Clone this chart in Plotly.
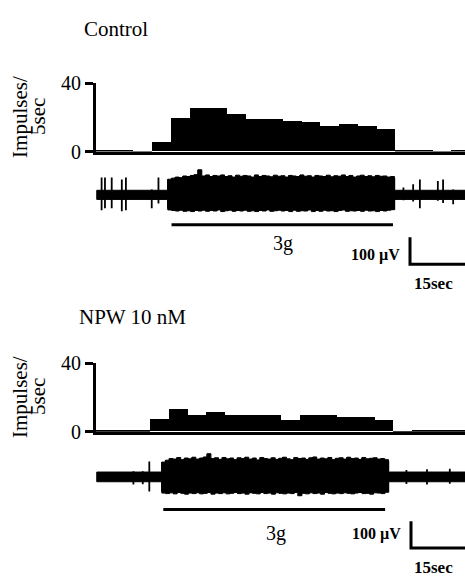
import plotly.graph_objects as go

W, H = 465, 588
SERIF = "Liberation Serif, Times New Roman, serif"

# ---------------- data ----------------
# impulse counts per 5-s bin
BIN_S = 5
CONTROL_COUNTS = [0.4, 0.4, 0.2, 5.6, 19.7, 25.2, 25.2, 21.6, 18.8, 18.8,
                  18.0, 16.9, 15.0, 15.8, 15.0, 13.3, 0.3, 0.3, 0.2, 0.3]
NPW_COUNTS = [0.5, 0.5, 0.3, 7.5, 13.2, 9.4, 11.3, 9.4, 9.4, 9.4,
              6.6, 9.4, 9.4, 8.5, 8.5, 6.6, 0.2, 0.3, 0.3, 0.3]
CONTROL_BIN_START = 0.0
NPW_BIN_START = -0.5

# raw nerve recordings (time in s, amplitude in uV)
REC_START, REC_END = 0.2, 100.0
CONTROL_NOISE_UV = 17
NPW_NOISE_UV = 18

# stimulus (3 g) on/off times
CONTROL_STIM = (20.2, 79.4)
NPW_STIM = (18.0, 77.3)

# burst envelope during stimulation, sampled once per second
CONTROL_BURST = (19.2, 79.8)
CONTROL_BURST_UP = [58, 62, 66, 64, 70, 68, 72, 75, 93, 70, 74,
                    68, 72, 70, 74, 68, 71, 66, 73, 69, 72,
                    70, 66, 74, 68, 72, 70, 67, 73, 69, 71,
                    66, 72, 70, 68, 74, 69, 71, 66, 72, 70,
                    68, 73, 67, 71, 69, 74, 68, 72, 66, 70,
                    73, 68, 71, 67, 72, 69, 70, 66, 68, 64]
CONTROL_BURST_DOWN = [-52, -56, -58, -60, -57, -61, -59, -62, -58, -60, -57,
                      -61, -58, -60, -56, -62, -59, -57, -61, -58, -60,
                      -57, -61, -59, -62, -58, -60, -56, -61, -59, -57,
                      -60, -58, -62, -57, -61, -59, -60, -56, -62, -58,
                      -61, -57, -60, -59, -62, -58, -56, -61, -59, -60,
                      -58, -61, -57, -60, -59, -62, -58, -60, -57, -55]

NPW_BURST = (17.6, 78.2)
NPW_BURST_UP = [55, 62, 68, 66, 72, 64, 70, 67, 73, 66, 70,
                74, 86, 68, 71, 65, 72, 67, 70, 64, 71,
                68, 73, 66, 70, 63, 72, 68, 66, 71, 65,
                69, 73, 67, 64, 72, 68, 70, 65, 71, 74,
                66, 70, 67, 72, 64, 69, 71, 66, 73, 68,
                70, 65, 72, 67, 69, 71, 66, 68, 64, 60]
NPW_BURST_DOWN = [-55, -60, -62, -59, -63, -58, -61, -64, -60, -62, -59,
                  -63, -61, -58, -64, -60, -62, -59, -63, -61, -58,
                  -62, -60, -64, -59, -61, -63, -58, -62, -60, -64,
                  -59, -61, -63, -60, -62, -58, -70, -61, -63, -59,
                  -62, -60, -64, -58, -61, -63, -60, -62, -59, -61,
                  -63, -60, -58, -62, -61, -64, -59, -60, -62, -57]

# isolated single-unit spikes outside the burst: time, peak, trough
CONTROL_SPIKE_T = [1.5, 2.4, 4.2, 6.9, 8.0, 14.9, 16.7, 82.2, 84.8, 86.6, 91.4, 92.8, 95.5]
CONTROL_SPIKE_UP = [64, 64, 64, 57, 64, 20, 64, 27, 39, 57, 51, 57, 20]
CONTROL_SPIKE_DOWN = [-57, -50, -50, -61, -57, -50, -32, -20, -25, -50, -22, -30, -35]

NPW_SPIKE_T = [10.0, 12.5, 14.25, 83.0, 88.5, 94.6]
NPW_SPIKE_UP = [21, 21, 57, 26, 28, 30]
NPW_SPIKE_DOWN = [-28, -27, -54, -26, -28, -25]

# calibration
SCALE_UV = 100
SCALE_S = 15
STIM_LABEL = "3g"

# ---------------- layout helpers ----------------
PX_PER_S = 3.74
PX_PER_UV = 0.28
AX_LEFT = 96
X_RANGE = [0, (W - AX_LEFT) / PX_PER_S]


def py(p):
    return 1 - p / H


def trace_range(top, bottom, center):
    return [-(bottom - center) / PX_PER_UV, (center - top) / PX_PER_UV]


def uv_at(p, center):
    return (center - p) / PX_PER_UV


def t_at(p):
    return (p - AX_LEFT) / PX_PER_S


fig = go.Figure()

panels = [
    dict(counts=CONTROL_COUNTS, bin0=CONTROL_BIN_START, hx="x", hy="y",
         tx="x3", ty="y3", noise=CONTROL_NOISE_UV, stim=CONTROL_STIM,
         burst=CONTROL_BURST, up=CONTROL_BURST_UP, down=CONTROL_BURST_DOWN,
         st=CONTROL_SPIKE_T, su=CONTROL_SPIKE_UP, sd=CONTROL_SPIKE_DOWN,
         h0=146, h40=75, center=191, dom=(160, 300),
         stim_px=222, bar_top=235, bar_x=410, label_px=253, g_px=(283, 242),
         sec_px=(433, 283), title="Control", title_px=(82, 19), ylab_px=110),
    dict(counts=NPW_COUNTS, bin0=NPW_BIN_START, hx="x2", hy="y2",
         tx="x4", ty="y4", noise=NPW_NOISE_UV, stim=NPW_STIM,
         burst=NPW_BURST, up=NPW_BURST_UP, down=NPW_BURST_DOWN,
         st=NPW_SPIKE_T, su=NPW_SPIKE_UP, sd=NPW_SPIKE_DOWN,
         h0=437, h40=366, center=484, dom=(450, 588),
         stim_px=518, bar_top=530, bar_x=411, label_px=543, g_px=(276, 543),
         sec_px=(433, 578), title="NPW 10 nM", title_px=(77, 318), ylab_px=401),
]

annotations = []
for i, p in enumerate(panels):
    # histogram
    centers = [p["bin0"] + BIN_S * (k + 0.5) for k in range(len(p["counts"]))]
    fig.add_trace(go.Bar(x=centers, y=p["counts"], width=BIN_S,
                         marker=dict(color="black", line=dict(width=0)),
                         xaxis=p["hx"], yaxis=p["hy"], hoverinfo="skip"))

    # baseline noise band of the recording
    n = p["noise"]
    fig.add_trace(go.Scatter(x=[REC_START, REC_END, REC_END, REC_START, REC_START],
                             y=[n, n, -n, -n, n], fill="toself", fillcolor="black",
                             mode="lines", line=dict(color="black", width=1),
                             xaxis=p["tx"], yaxis=p["ty"], hoverinfo="skip"))

    # burst envelope, drawn as steps so each sample reads as a unit discharge
    b0, b1 = p["burst"]
    m = len(p["up"])
    bt = [b0 + (b1 - b0) * k / (m - 1) for k in range(m)]
    fig.add_trace(go.Scatter(x=bt + bt[::-1] + [bt[0]],
                             y=p["up"] + p["down"][::-1] + [p["up"][0]],
                             fill="toself", fillcolor="black", mode="lines",
                             line=dict(color="black", width=1, shape="hv"),
                             xaxis=p["tx"], yaxis=p["ty"], hoverinfo="skip"))
    vx, vy = [], []
    for t, u, d in zip(bt, p["up"], p["down"]):
        vx += [t, t, None]
        vy += [u, d, None]
    fig.add_trace(go.Scatter(x=vx, y=vy, mode="lines",
                             line=dict(color="black", width=1.5),
                             xaxis=p["tx"], yaxis=p["ty"], hoverinfo="skip"))

    # isolated spikes
    sx, sy = [], []
    for t, u, d in zip(p["st"], p["su"], p["sd"]):
        sx += [t, t, None]
        sy += [u, d, None]
    fig.add_trace(go.Scatter(x=sx, y=sy, mode="lines",
                             line=dict(color="black", width=1.8),
                             xaxis=p["tx"], yaxis=p["ty"], hoverinfo="skip"))

    c = p["center"]
    # stimulus bar
    ys = uv_at(p["stim_px"], c)
    fig.add_trace(go.Scatter(x=list(p["stim"]), y=[ys, ys], mode="lines",
                             line=dict(color="black", width=3),
                             xaxis=p["tx"], yaxis=p["ty"], hoverinfo="skip"))

    # calibration bars
    bx = t_at(p["bar_x"])
    yb_top = uv_at(p["bar_top"], c)
    yb_bot = yb_top - SCALE_UV
    fig.add_trace(go.Scatter(x=[bx, bx, bx + SCALE_S], y=[yb_top, yb_bot, yb_bot],
                             mode="lines", line=dict(color="black", width=3),
                             xaxis=p["tx"], yaxis=p["ty"], hoverinfo="skip"))

    annotations += [
        dict(text=STIM_LABEL, x=t_at(p["g_px"][0]), y=uv_at(p["g_px"][1], c),
             xref=p["tx"], yref=p["ty"], xanchor="center", yanchor="middle",
             showarrow=False, font=dict(family=SERIF, size=20, color="black")),
        dict(text=f"<b>{SCALE_UV} µV</b>", x=t_at(p["bar_x"] - 8),
             y=uv_at(p["label_px"], c), xref=p["tx"], yref=p["ty"],
             xanchor="right", yanchor="middle", showarrow=False,
             font=dict(family=SERIF, size=16, color="black")),
        dict(text=f"<b>{SCALE_S}sec</b>", x=t_at(p["sec_px"][0]),
             y=uv_at(p["sec_px"][1], c), xref=p["tx"], yref=p["ty"],
             xanchor="center", yanchor="middle", showarrow=False,
             font=dict(family=SERIF, size=17, color="black")),
        dict(text=p["title"], x=p["title_px"][0] / W, y=py(p["title_px"][1]),
             xref="paper", yref="paper", xanchor="left", yanchor="middle",
             showarrow=False, font=dict(family=SERIF, size=21, color="black")),
        dict(text="Impulses/", x=20 / W, y=py(p["ylab_px"]), xref="paper",
             yref="paper", xanchor="center", yanchor="middle", textangle=-90,
             showarrow=False, font=dict(family=SERIF, size=21, color="black")),
        dict(text="5sec", x=38 / W, y=py(p["ylab_px"]), xref="paper",
             yref="paper", xanchor="center", yanchor="middle", textangle=-90,
             showarrow=False, font=dict(family=SERIF, size=21, color="black")),
    ]

hist_x = dict(domain=[AX_LEFT / W, 1], range=X_RANGE, showline=True,
              linewidth=3, linecolor="black", showticklabels=False,
              ticks="", showgrid=False, zeroline=False, fixedrange=True)
hist_y = dict(range=[0, 40], tickvals=[0, 40], ticks="outside", ticklen=8,
              tickwidth=2.5, tickcolor="black", showline=True, linewidth=3,
              linecolor="black", showgrid=False, zeroline=False,
              tickfont=dict(family=SERIF, size=20, color="black"))
hidden = dict(visible=False, showgrid=False, zeroline=False, fixedrange=True)

p0, p1 = panels
layout = dict(
    width=W, height=H, margin=dict(l=0, r=0, t=0, b=0),
    paper_bgcolor="white", plot_bgcolor="rgba(0,0,0,0)",
    showlegend=False, bargap=0, annotations=annotations,
    xaxis=dict(hist_x, anchor="y"),
    yaxis=dict(hist_y, domain=[py(p0["h0"]), py(p0["h40"])], anchor="x"),
    xaxis2=dict(hist_x, anchor="y2"),
    yaxis2=dict(hist_y, domain=[py(p1["h0"]), py(p1["h40"])], anchor="x2"),
    xaxis3=dict(hidden, domain=[AX_LEFT / W, 1], range=X_RANGE, anchor="y3"),
    yaxis3=dict(hidden, domain=[py(p0["dom"][1]), py(p0["dom"][0])],
                range=trace_range(*p0["dom"], p0["center"]), anchor="x3"),
    xaxis4=dict(hidden, domain=[AX_LEFT / W, 1], range=X_RANGE, anchor="y4"),
    yaxis4=dict(hidden, domain=[py(p1["dom"][1]), py(p1["dom"][0])],
                range=trace_range(*p1["dom"], p1["center"]), anchor="x4"),
)
fig.update_layout(**layout)

fig.write_html("out.html", config={"displayModeBar": False})
